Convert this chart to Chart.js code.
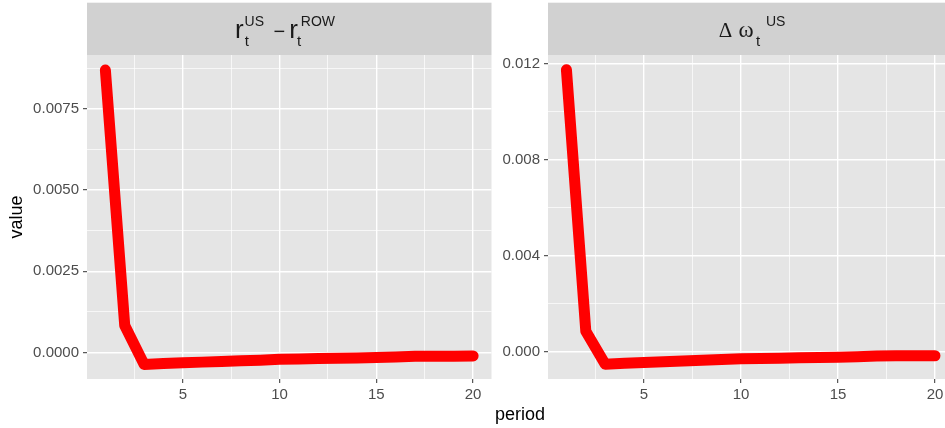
<!DOCTYPE html>
<html>
<head>
<meta charset="utf-8">
<script src="https://cdn.jsdelivr.net/npm/chart.js@4/dist/chart.umd.min.js"></script>
<style>
  html, body { margin: 0; padding: 0; background: #ffffff; }
  body { width: 945px; height: 428px; overflow: hidden; position: relative; }
  #left { position: absolute; left: 0; top: 0; }
  #right { position: absolute; left: 500px; top: 0; }
  #xtitle {
    position: absolute; left: 470px; width: 100px; top: 405px;
    text-align: center; font: 18px "Liberation Sans", Arial, sans-serif;
    line-height: 18px; color: #000000;
  }
</style>
</head>
<body>
<canvas id="left" width="500" height="428"></canvas>
<canvas id="right" width="455" height="428"></canvas>
<div id="xtitle">period</div>
<script>
// Impulse responses over 20 periods
const periods = [1, 2, 3, 4, 5, 6, 7, 8, 9, 10, 11, 12, 13, 14, 15, 16, 17, 18, 19, 20];

// r_t^US - r_t^ROW
const rateDiff = [0.0087, 0.00083, -0.00037, -0.00034, -0.00032, -0.00030, -0.00028, -0.00026, -0.00024, -0.00021,
                  -0.00020, -0.00019, -0.00018, -0.00017, -0.00016, -0.00014, -0.00012, -0.00012, -0.00012, -0.00011];

// Δ ω_t^US
const omegaChange = [0.01176, 0.00085, -0.000525, -0.00048, -0.00045, -0.00042, -0.00039, -0.00036, -0.00033, -0.00030,
                     -0.00028, -0.00027, -0.00025, -0.00024, -0.00023, -0.00021, -0.00018, -0.00017, -0.00017, -0.00017];

// Axis ticks
const xMajor = [5, 10, 15, 20];
const xMajorLabels = ["5", "10", "15", "20"];
const xMinor = [2.5, 7.5, 12.5, 17.5];

const leftYMajor = [0, 0.0025, 0.005, 0.0075];
const leftYLabels = ["0.0000", "0.0025", "0.0050", "0.0075"];
const leftYMinor = [0.00125, 0.00375, 0.00625, 0.00875];

const rightYMajor = [0, 0.004, 0.008, 0.012];
const rightYLabels = ["0.000", "0.004", "0.008", "0.012"];
const rightYMinor = [0.002, 0.006, 0.010];

const SANS = '"Liberation Sans", Arial, sans-serif';
const SERIF = '"Liberation Serif", "Times New Roman", serif';

function near(a, b) { return Math.abs(a - b) < 1e-9; }
function majorIndex(v, majors) { return majors.findIndex(m => near(m, v)); }

function tickScale(majors, labels, minors, min, max, fitSize, horizontal, extra) {
  return Object.assign({
    type: 'linear',
    min: min,
    max: max,
    afterBuildTicks(scale) {
      scale.ticks = majors.concat(minors).sort((a, b) => a - b).map(v => ({ value: v }));
    },
    afterFit(scale) {
      if (horizontal) scale.height = fitSize; else scale.width = fitSize;
    },
    border: { display: false },
    grid: {
      color: '#ffffff',
      lineWidth: c => (c.tick && majorIndex(c.tick.value, majors) >= 0) ? 1.4 : 0.7,
      tickColor: c => (c.tick && majorIndex(c.tick.value, majors) >= 0) ? '#333333' : 'rgba(0,0,0,0)',
      tickLength: 4,
      tickWidth: 1,
      drawTicks: true
    },
    ticks: {
      autoSkip: false,
      maxRotation: 0,
      minRotation: 0,
      padding: horizontal ? 3 : 4,
      color: '#4D4D4D',
      font: { family: SANS, size: 15 },
      callback(value) {
        const i = majorIndex(value, majors);
        return i >= 0 ? labels[i] : '';
      }
    }
  }, extra || {});
}

// Panel background plus the facet strip with its label
function panelPlugin(stripParts) {
  return {
    id: 'panel',
    beforeDraw(chart) {
      const { ctx, chartArea: a } = chart;
      ctx.save();
      ctx.fillStyle = '#E5E5E5';
      ctx.fillRect(a.left, a.top, a.right - a.left, a.bottom - a.top);
      ctx.fillStyle = '#D1D1D1';
      ctx.fillRect(a.left, 2.7, a.right - a.left, a.top - 2.7);
      const cx = (a.left + a.right) / 2;
      ctx.fillStyle = '#1A1A1A';
      ctx.textAlign = 'left';
      ctx.textBaseline = 'alphabetic';
      stripParts.forEach(p => {
        ctx.font = p.font;
        ctx.fillText(p.text, cx + p.dx, p.y);
      });
      ctx.restore();
    }
  };
}

function lineDataset(values) {
  return {
    data: periods.map((p, i) => ({ x: p, y: values[i] })),
    borderColor: '#FF0000',
    backgroundColor: '#FF0000',
    borderWidth: 11,
    borderCapStyle: 'round',
    borderJoinStyle: 'round',
    pointRadius: 0,
    tension: 0,
    fill: false
  };
}

const common = {
  responsive: false,
  animation: false,
  devicePixelRatio: 1,
  events: [],
  plugins: { legend: { display: false }, tooltip: { enabled: false } }
};

new Chart(document.getElementById('left'), {
  type: 'line',
  data: { datasets: [lineDataset(rateDiff)] },
  options: Object.assign({}, common, {
    layout: { padding: { left: 0, right: 8.5, top: 55, bottom: 0 } },
    scales: {
      x: tickScale(xMajor, xMajorLabels, xMinor, 0.05, 20.95, 49, true),
      y: tickScale(leftYMajor, leftYLabels, leftYMinor, -0.00082, 0.009165, 87, false, {
        title: {
          display: true,
          text: 'value',
          color: '#000000',
          font: { family: SANS, size: 18 },
          padding: { top: 6, bottom: 0 }
        }
      })
    }
  }),
  plugins: [panelPlugin([
    { text: 'r', font: '26px ' + SANS, dx: -54.2, y: 37.5 },
    { text: 'US', font: '14px ' + SANS, dx: -44.7, y: 26 },
    { text: 't', font: '15px ' + SANS, dx: -44.6, y: 46 },
    { text: '\u2212', font: '20px ' + SANS, dx: -15.8, y: 37.5 },
    { text: 'r', font: '26px ' + SANS, dx: -0.1, y: 37.5 },
    { text: 'ROW', font: '14px ' + SANS, dx: 11.6, y: 26 },
    { text: 't', font: '15px ' + SANS, dx: 7.8, y: 46 }
  ])]
});

new Chart(document.getElementById('right'), {
  type: 'line',
  data: { datasets: [lineDataset(omegaChange)] },
  options: Object.assign({}, common, {
    layout: { padding: { left: 0, right: 1.6, top: 55, bottom: 0 } },
    scales: {
      x: tickScale(xMajor, xMajorLabels, xMinor, 0.05, 20.95, 49, true),
      y: tickScale(rightYMajor, rightYLabels, rightYMinor, -0.00114, 0.012375, 48, false)
    }
  }),
  plugins: [panelPlugin([
    { text: '\u0394', font: '21px ' + SERIF, dx: -31.9, y: 36.7 },
    { text: '\u03C9', font: '23px ' + SERIF, dx: -12.2, y: 36.7 },
    { text: 't', font: '15px ' + SANS, dx: 5.3, y: 46 },
    { text: 'US', font: '14px ' + SANS, dx: 15.2, y: 26 }
  ])]
});
</script>
</body>
</html>
